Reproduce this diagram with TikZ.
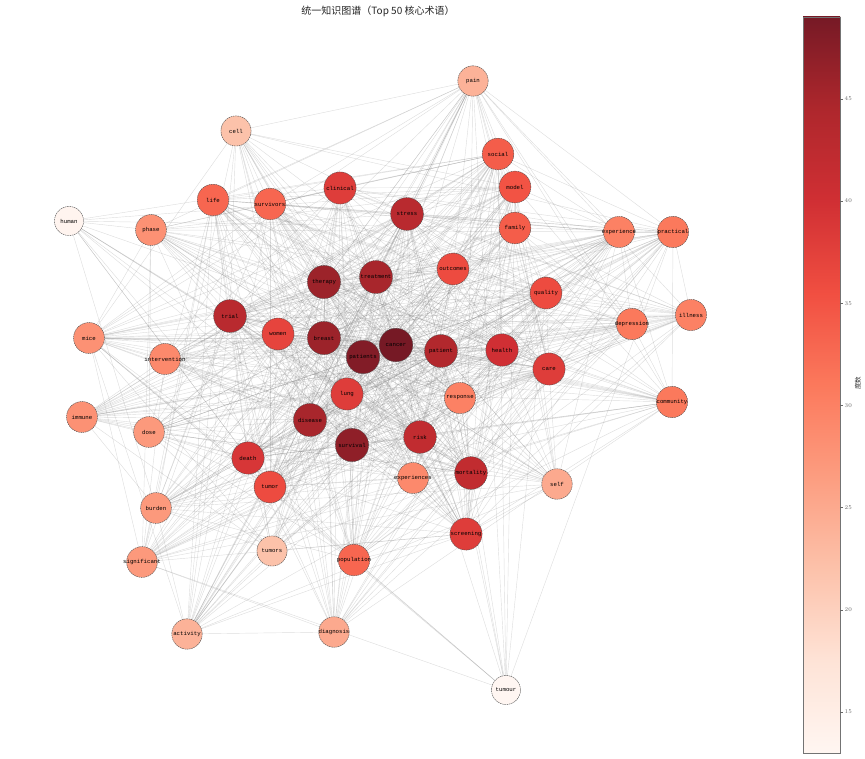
\documentclass[tikz,border=0pt]{standalone}
\usepackage{fontspec}
\newfontfamily\cjkfont{Noto Sans CJK SC}
\newfontfamily\lblfont{Liberation Mono}
\usetikzlibrary{backgrounds}
\definecolor{rd0}{HTML}{FFF5F0}
\definecolor{rd1}{HTML}{FEE0D2}
\definecolor{rd2}{HTML}{FCBBA1}
\definecolor{rd3}{HTML}{FC9272}
\definecolor{rd4}{HTML}{FB6A4A}
\definecolor{rd5}{HTML}{EF3B2C}
\definecolor{rd6}{HTML}{CB181D}
\definecolor{rd7}{HTML}{A50F15}
\definecolor{rd8}{HTML}{67000D}
\colorlet{rw0}{rd0!90!white}
\colorlet{rw1}{rd1!90!white}
\colorlet{rw2}{rd2!90!white}
\colorlet{rw3}{rd3!90!white}
\colorlet{rw4}{rd4!90!white}
\colorlet{rw5}{rd5!90!white}
\colorlet{rw6}{rd6!90!white}
\colorlet{rw7}{rd7!90!white}
\colorlet{rw8}{rd8!90!white}
\pgfdeclareverticalshading{redsbar}{100bp}{color(0bp)=(rw0); color(25bp)=(rw0); color(31.25bp)=(rw1); color(37.5bp)=(rw2); color(43.75bp)=(rw3); color(50bp)=(rw4); color(56.25bp)=(rw5); color(62.5bp)=(rw6); color(68.75bp)=(rw7); color(75bp)=(rw8); color(100bp)=(rw8)}
\newcommand\setredcol[1]{%
  \pgfmathsetmacro\rdt{(#1-13)/36*8}%
  \pgfmathtruncatemacro\rdk{min(floor(\rdt),7)}%
  \pgfmathtruncatemacro\rdf{round((\rdt-\rdk)*100)}%
  \pgfmathtruncatemacro\rdn{\rdk+1}%
  \colorlet{curtmp}{rd\rdn!\rdf!rd\rdk}%
  \colorlet{cur}{curtmp!90!white}%
}
\def\nodelist{pain/473/81/24, cell/236/131/22, human/69/221/13.5, phase/151/230/28, life/213/200/33, survivors/270/204/33, clinical/340/188/38, stress/407/214/43, social/498/154/34, model/515/187/35, family/515/228/34, experience/619/232/30, practical/673/232/31, therapy/324/282/46, treatment/376/277/45, outcomes/453/269/36, quality/546/293/36, illness/691/315/30, depression/632/324/31, trial/230/316/43, women/278/334/37, breast/324/338/46, patients/363/357/48, cancer/396/345/49, patient/441/351/44, health/502/350/40, care/549/369/38, mice/89/338/28, intervention/165/359/29, lung/347/394/38, response/460/398/30, community/672/402/31, immune/82/417/28, dose/149/432/27, disease/310/420/45, survival/352/445/47, risk/420/437/42, death/248/458/39, experiences/413/478/29, mortality/471/473/42, self/557/484/25, tumor/270/487/36, burden/156/508/27, screening/466/534/38, tumors/272/551/22, population/354/560/33, significant/142/562/27, activity/187/634/24, diagnosis/334/632/25, tumour/506/690/13}
\tikzset{
  termnode/.style={circle, inner sep=0pt, draw=black!70, line width=0.4pt, dash pattern=on 1.6pt off 0.7pt, text=black, font=\lblfont\fontsize{5.7}{6}\selectfont},
  edgeline/.style={draw=gray, opacity=0.27, line width=0.42pt},
  ticklbl/.style={anchor=west, text=black!60, font=\fontsize{5.8}{6}\selectfont, inner sep=0.5pt}
}
\begin{document}
\begin{tikzpicture}[x=1pt,y=-1pt]
\useasboundingbox (0,0) rectangle (865,759);
\node[font=\cjkfont\fontsize{10}{12}\selectfont, text=black!85] (title) at (378,11) {统一知识图谱（Top 50 核心术语）};
\foreach \nm/\x/\y/\v [count=\k] in \nodelist {
  \pgfmathsetmacro\dd{2*(14.5+2.3*(\v-13)/36)}
  \setredcol{\v}
  \node[termnode, fill=cur, minimum size=\dd pt] (\nm) at (\x,\y) {\makebox[0pt]{\nm}};
  \expandafter\xdef\csname tn\k\endcsname{\nm}
  \expandafter\xdef\csname tv\k\endcsname{\v}
}
\begin{pgfonlayer}{background}
\pgfmathsetseed{4242}
\foreach \i in {1,...,49} {
  \pgfmathtruncatemacro\jstart{\i+1}
  \foreach \j in {\jstart,...,50} {
    \pgfmathsetmacro\pp{\csname tv\i\endcsname*\csname tv\j\endcsname/1692}
    \pgfmathsetmacro\rrnd{rnd}
    \edef\na{\csname tn\i\endcsname}
    \edef\nb{\csname tn\j\endcsname}
    \ifdim\rrnd pt<\pp pt \draw[edgeline] (\na) -- (\nb); \fi
  }
}
\end{pgfonlayer}
% colour bar
\shade[shading=redsbar] (803,17) rectangle (840,753);
\draw[black!55, line width=0.6pt] (803,17) rectangle (840,753);
\foreach \t in {15,20,25,30,35,40,45} {
  \pgfmathsetmacro\ty{753-20.4444*(\t-13)}
  \draw[black!60, line width=0.4pt] (840,\ty) -- (843,\ty);
  \node[ticklbl] (tick\t) at (844,\ty) {\t};
}
\node[font=\cjkfont\fontsize{6.5}{7}\selectfont, rotate=90, text=black!80] (cblabel) at (858,383) {度数};
\end{tikzpicture}
\end{document}
